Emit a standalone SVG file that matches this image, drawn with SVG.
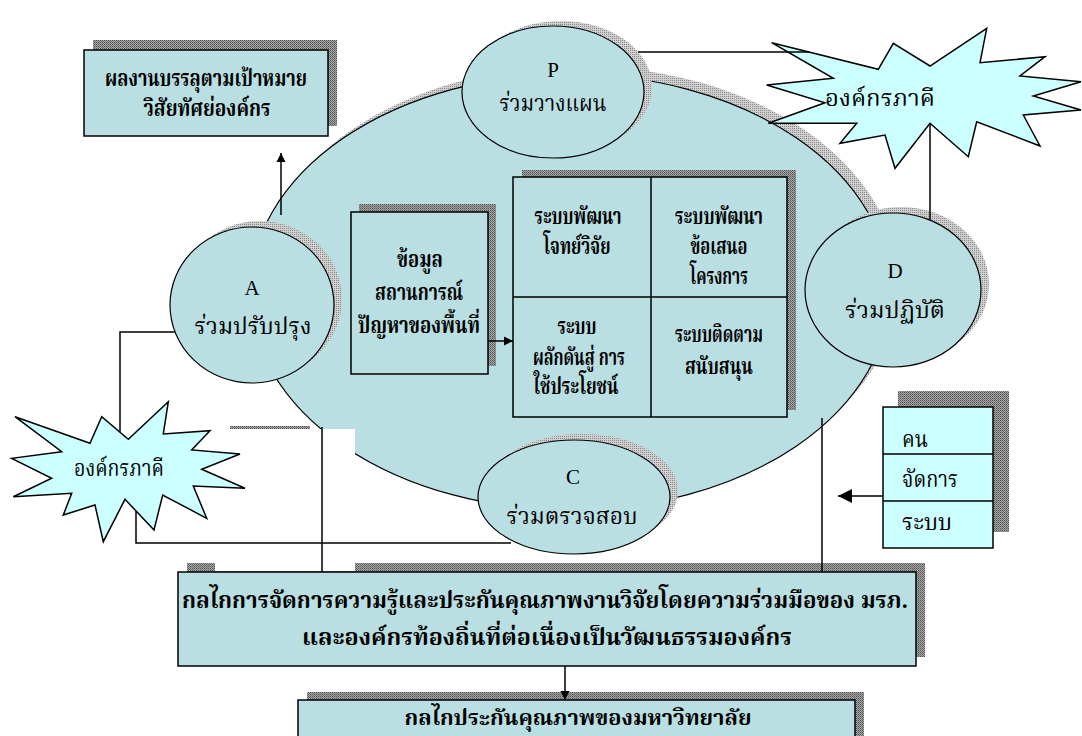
<svg xmlns="http://www.w3.org/2000/svg" width="1082" height="736" viewBox="0 0 1082 736">
<defs>
<pattern id="dk" width="2" height="2" patternUnits="userSpaceOnUse"><rect width="2" height="2" fill="#a8a8a8"/><rect width="1" height="1" fill="#505050"/><rect x="1" y="1" width="1" height="1" fill="#707070"/></pattern>
<pattern id="lt" width="2" height="2" patternUnits="userSpaceOnUse"><rect width="2" height="2" fill="#d0d0d0"/><rect width="1" height="1" fill="#8a8a8a"/></pattern>
<marker id="ah" viewBox="0 0 10 10" refX="10" refY="5" markerWidth="9" markerHeight="10" markerUnits="userSpaceOnUse" orient="auto"><path d="M0,0 L10,5 L0,10 z" fill="#000"/></marker>
<marker id="ahb" viewBox="0 0 10 10" refX="10" refY="5" markerWidth="16" markerHeight="14" markerUnits="userSpaceOnUse" orient="auto"><path d="M0,0 L10,5 L0,10 z" fill="#000"/></marker>
</defs>
<style>
.box{fill:#b9dfe2;stroke:#000;stroke-width:1.5}
.cyan{fill:#ccffff;stroke:#000;stroke-width:1.5}
.sh{fill:url(#dk)}
.shl{fill:url(#lt)}
.ell{fill:#b9dfe2;stroke:#000;stroke-width:1.2}
.ln{fill:none;stroke:#000;stroke-width:1.5}
.grid{fill:none;stroke:#000;stroke-width:1.5}
text{font-family:'Noto Serif Thai','Noto Sans Thai','Liberation Serif',serif;fill:#000;text-anchor:middle}
.b{font-weight:bold;font-size:23px}
.n{font-size:23px}
.lat{font-family:'Liberation Serif',serif;font-size:21px}
.l{text-anchor:start}
</style>
<rect width="1082" height="736" fill="#fff"/>

<g id="node-main-ellipse">
<ellipse cx="578" cy="284" rx="320" ry="218" class="shl"/>
<ellipse cx="570" cy="292" rx="320" ry="218" class="ell"/>
</g>

<g id="node-bottom-box">
<rect x="187" y="563" width="738" height="94" class="sh"/>
<rect x="178" y="572" width="738" height="94" class="box"/>
<text class="b" x="545" y="608" textLength="726" lengthAdjust="spacingAndGlyphs">กลไกการจัดการความรู้และประกันคุณภาพงานวิจัยโดยความร่วมมือของ มรภ.</text>
<text class="b" x="547" y="645" textLength="490" lengthAdjust="spacingAndGlyphs">และองค์กรท้องถิ่นที่ต่อเนื่องเป็นวัฒนธรรมองค์กร</text>
</g>

<rect x="215" y="429" width="140" height="142" fill="#fff"/>
<rect x="230" y="426" width="80" height="3" class="sh"/>

<g id="node-goal-box">
<rect x="93" y="40" width="244" height="86" class="sh"/>
<rect x="84" y="50" width="244" height="86" class="box"/>
<text class="b" x="206" y="86" textLength="202" lengthAdjust="spacingAndGlyphs">ผลงานบรรลุตามเป้าหมาย</text>
<text class="b" x="207" y="116" textLength="127" lengthAdjust="spacingAndGlyphs">วิสัยทัศย่องค์กร</text>
</g>

<g id="node-P">
<ellipse cx="561" cy="87" rx="91" ry="66" class="shl"/>
<ellipse cx="553" cy="92" rx="91" ry="66" class="ell"/>
<text class="lat" x="553" y="77">P</text>
<text class="n" x="553" y="111" textLength="107" lengthAdjust="spacingAndGlyphs">ร่วมวางแผน</text>
</g>

<g id="node-A">
<ellipse cx="260" cy="299" rx="82" ry="78" class="shl"/>
<ellipse cx="252" cy="305" rx="82" ry="78" class="ell"/>
<text class="lat" x="252" y="295">A</text>
<text class="n" x="253" y="334" textLength="117" lengthAdjust="spacingAndGlyphs">ร่วมปรับปรุง</text>
</g>

<g id="node-D">
<ellipse cx="901" cy="284" rx="88" ry="77" class="shl"/>
<ellipse cx="893" cy="290" rx="88" ry="77" class="ell"/>
<text class="lat" x="895" y="278">D</text>
<text class="n" x="895" y="318" textLength="100" lengthAdjust="spacingAndGlyphs">ร่วมปฏิบัติ</text>
</g>

<g id="node-C">
<ellipse cx="582" cy="491" rx="96" ry="57" class="shl"/>
<ellipse cx="574" cy="497" rx="96" ry="57" class="ell"/>
<text class="lat" x="573" y="484">C</text>
<text class="n" x="572" y="524" textLength="131" lengthAdjust="spacingAndGlyphs">ร่วมตรวจสอบ</text>
</g>

<g id="node-data-box">
<rect x="359" y="204" width="137" height="162" class="sh"/>
<rect x="351" y="212" width="137" height="162" class="box"/>
<text class="b" x="420" y="267" textLength="46" lengthAdjust="spacingAndGlyphs">ข้อมูล</text>
<text class="b" x="419" y="300" textLength="88" lengthAdjust="spacingAndGlyphs">สถานการณ์</text>
<text class="b" x="419" y="333" textLength="122" lengthAdjust="spacingAndGlyphs">ปัญหาของพื้นที่</text>
</g>

<g id="node-grid">
<rect x="522" y="170" width="274" height="240" class="sh"/>
<rect x="513" y="177" width="274" height="240" class="box"/>
<path class="grid" d="M651,177 V417 M513,297 H787"/>
<text class="b" x="578" y="224" textLength="87" lengthAdjust="spacingAndGlyphs">ระบบพัฒนา</text>
<text class="b" x="577" y="254" textLength="67" lengthAdjust="spacingAndGlyphs">โจทย์วิจัย</text>
<text class="b" x="719" y="224" textLength="88" lengthAdjust="spacingAndGlyphs">ระบบพัฒนา</text>
<text class="b" x="719" y="254" textLength="57" lengthAdjust="spacingAndGlyphs">ข้อเสนอ</text>
<text class="b" x="719" y="284" textLength="58" lengthAdjust="spacingAndGlyphs">โครงการ</text>
<text class="b" x="577" y="334" textLength="39" lengthAdjust="spacingAndGlyphs">ระบบ</text>
<text class="b" x="579" y="365" textLength="92" lengthAdjust="spacingAndGlyphs">ผลักดันสู่ การ</text>
<text class="b" x="576" y="394" textLength="85" lengthAdjust="spacingAndGlyphs">ใช้ประโยชน์</text>
<text class="b" x="719" y="342" textLength="88" lengthAdjust="spacingAndGlyphs">ระบบติดตาม</text>
<text class="b" x="719" y="374" textLength="68" lengthAdjust="spacingAndGlyphs">สนับสนุน</text>
</g>

<g id="node-partner-top">
<polygon class="cyan" points="771.7,42.7 878.3,69.3 893.3,43.3 930,66 986.7,28.3 980,62.7 1045,56.7 1020,76 1081,81.7 1033.3,96 1081,110 1023.3,115 1040,146 976.7,121.7 968.3,156.7 930,123.3 895,168.3 885,135 840,143.3 856.7,123.3 768.3,123.3 825,102.7 766.7,85 833.3,78.3"/>
<text class="n" x="880" y="106" textLength="110" lengthAdjust="spacingAndGlyphs">องค์กรภาคี</text>
</g>

<g id="node-partner-left">
<polygon class="cyan" points="15,416.7 90,443.3 101.7,416.7 128.3,439.3 168.3,401.7 163.3,434 210,430.7 191.7,450 240,454 201.7,469.3 245,488.3 193.3,486 206.7,518.3 162.7,495 154,530 125,499.3 103.3,541.7 95,505 63.3,515 71.7,493.3 13.3,496.7 51.7,478.3 11.7,458.3 61.7,451.7"/>
<text class="n" x="119" y="476" textLength="90" lengthAdjust="spacingAndGlyphs">องค์กรภาคี</text>
</g>

<g id="node-resources">
<rect x="898" y="391" width="111" height="141" class="sh"/>
<rect x="883" y="407" width="110" height="141" class="cyan"/>
<path class="grid" d="M883,454 H993 M883,501 H993"/>
<text class="n l" x="902" y="447" textLength="26" lengthAdjust="spacingAndGlyphs">คน</text>
<text class="n l" x="902" y="487" textLength="56" lengthAdjust="spacingAndGlyphs">จัดการ</text>
<text class="n l" x="902" y="530" textLength="50" lengthAdjust="spacingAndGlyphs">ระบบ</text>
</g>

<g id="node-univ-box">
<rect x="307" y="692" width="557" height="60" class="sh"/>
<rect x="298" y="700" width="557" height="60" class="box"/>
<text class="b" x="578" y="725" style="font-size:22px" textLength="347" lengthAdjust="spacingAndGlyphs">กลไกประกันคุณภาพของมหาวิทยาลัย</text>
</g>

<g id="connectors">
<path class="ln" d="M281,215 V153" marker-end="url(#ah)"/>
<path class="ln" d="M638,52 H809"/>
<path class="ln" d="M930,123 V220"/>
<path class="ln" d="M175,332 H120 V432"/>
<path class="ln" d="M136,511 V543 H511"/>
<path class="ln" d="M322,427 V572"/>
<path class="ln" d="M822,418 V572"/>
<path class="ln" d="M488,341 H513" marker-end="url(#ah)"/>
<path class="ln" d="M883,496 H838" marker-end="url(#ahb)"/>
<path class="ln" d="M565,666 V700" marker-end="url(#ah)"/>
</g>
</svg>
